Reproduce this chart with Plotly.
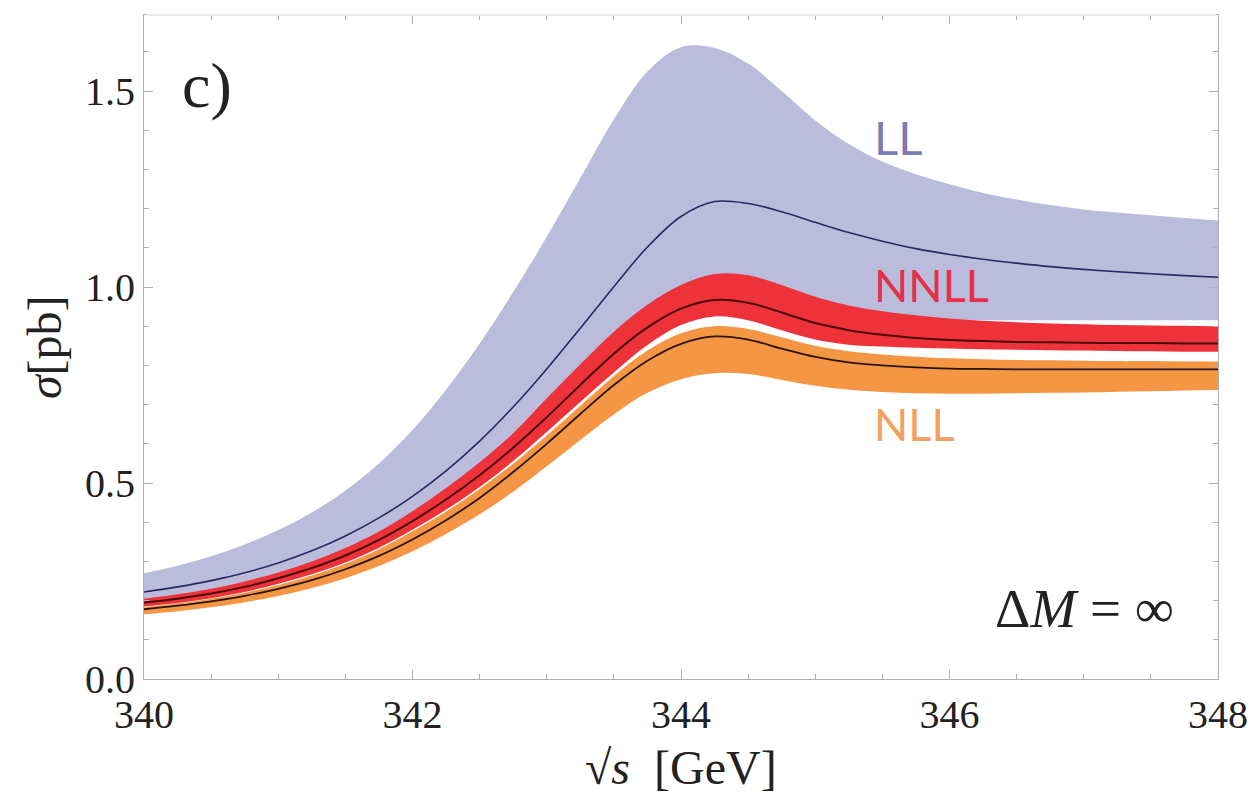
import plotly.graph_objects as go

# sqrt(s) grid [GeV]
s = [340.00, 340.25, 340.50, 340.75, 341.00, 341.25, 341.50, 341.75,
     342.00, 342.25, 342.50, 342.75, 343.00, 343.25, 343.50, 343.75,
     344.00, 344.25, 344.50, 344.75, 345.00, 345.25, 345.50, 345.75,
     346.00, 346.25, 346.50, 346.75, 347.00, 347.25, 347.50, 347.75, 348.00]

# LL band and central curve [pb]
ll_up = [0.270, 0.289, 0.313, 0.343, 0.380, 0.425, 0.481, 0.550,
         0.635, 0.738, 0.856, 0.987, 1.128, 1.278, 1.428, 1.550,
         1.612, 1.610, 1.570, 1.500, 1.425, 1.365, 1.320, 1.288,
         1.262, 1.240, 1.223, 1.209, 1.198, 1.190, 1.183, 1.176, 1.170]
ll_c = [0.222, 0.235, 0.251, 0.271, 0.296, 0.327, 0.365, 0.411,
        0.466, 0.531, 0.607, 0.694, 0.791, 0.895, 1.001, 1.102,
        1.180, 1.218, 1.213, 1.192, 1.165, 1.139, 1.117, 1.098,
        1.083, 1.071, 1.061, 1.052, 1.045, 1.039, 1.034, 1.029, 1.025]
ll_lo = [0.200, 0.210, 0.222, 0.240, 0.262, 0.288, 0.320, 0.360,
         0.410, 0.465, 0.528, 0.598, 0.680, 0.762, 0.840, 0.900,
         0.930, 0.935, 0.930, 0.925, 0.922, 0.920, 0.918, 0.917,
         0.916, 0.916, 0.915, 0.915, 0.915, 0.915, 0.915, 0.915, 0.915]

# NNLL band and central curve [pb]
nnll_up = [0.205, 0.216, 0.230, 0.249, 0.272, 0.300, 0.334, 0.376,
           0.428, 0.487, 0.553, 0.627, 0.716, 0.803, 0.886, 0.955,
           1.005, 1.033, 1.030, 1.005, 0.975, 0.953, 0.938, 0.928,
           0.920, 0.914, 0.910, 0.907, 0.905, 0.903, 0.902, 0.901, 0.900]
nnll_c = [0.195, 0.205, 0.218, 0.235, 0.257, 0.283, 0.315, 0.355,
          0.403, 0.458, 0.520, 0.590, 0.668, 0.750, 0.830, 0.897,
          0.945, 0.967, 0.960, 0.935, 0.908, 0.890, 0.878, 0.870,
          0.865, 0.862, 0.860, 0.859, 0.858, 0.857, 0.857, 0.856, 0.856]
nnll_lo = [0.185, 0.194, 0.206, 0.222, 0.243, 0.267, 0.297, 0.335,
           0.381, 0.432, 0.490, 0.556, 0.630, 0.707, 0.782, 0.852,
           0.903, 0.925, 0.915, 0.890, 0.866, 0.853, 0.848, 0.845,
           0.843, 0.841, 0.840, 0.839, 0.838, 0.837, 0.836, 0.835, 0.835]

# NLL band and central curve [pb]
nll_up = [0.183, 0.193, 0.205, 0.220, 0.240, 0.264, 0.294, 0.331,
          0.377, 0.427, 0.485, 0.549, 0.621, 0.697, 0.773, 0.838,
          0.882, 0.900, 0.893, 0.872, 0.850, 0.836, 0.828, 0.822,
          0.818, 0.816, 0.814, 0.813, 0.812, 0.811, 0.811, 0.810, 0.810]
nll_c = [0.178, 0.187, 0.198, 0.212, 0.230, 0.252, 0.280, 0.314,
         0.356, 0.405, 0.462, 0.528, 0.600, 0.676, 0.750, 0.812,
         0.855, 0.874, 0.866, 0.843, 0.822, 0.808, 0.800, 0.795,
         0.792, 0.791, 0.790, 0.790, 0.790, 0.790, 0.790, 0.790, 0.790]
nll_lo = [0.165, 0.173, 0.183, 0.196, 0.212, 0.232, 0.257, 0.288,
          0.326, 0.370, 0.420, 0.478, 0.543, 0.610, 0.675, 0.730,
          0.765, 0.780, 0.778, 0.763, 0.748, 0.738, 0.732, 0.729,
          0.728, 0.728, 0.729, 0.730, 0.731, 0.733, 0.734, 0.736, 0.737]

x_ticks = [340, 342, 344, 346, 348]
y_ticks = [0.0, 0.5, 1.0, 1.5]

LL_FILL, LL_LINE, LL_TXT = "#bbbcdc", "#262a5e", "#7b7bb5"
NNLL_FILL, NNLL_LINE, NNLL_TXT = "#ee3239", "#4a0808", "#e5304a"
NLL_FILL, NLL_LINE, NLL_TXT = "#f59645", "#2a1505", "#f4a061"

fig = go.Figure()


def band(lo, up, color):
    fig.add_trace(go.Scatter(x=s, y=lo, mode="lines", line=dict(width=0, shape="spline", color=color),
                             hoverinfo="skip", showlegend=False))
    fig.add_trace(go.Scatter(x=s, y=up, mode="lines", line=dict(width=0, shape="spline", color=color),
                             fill="tonexty", fillcolor=color, hoverinfo="skip", showlegend=False))


def curve(y, color, w):
    fig.add_trace(go.Scatter(x=s, y=y, mode="lines", line=dict(width=w, shape="spline", color=color),
                             showlegend=False))


band(ll_lo, ll_up, LL_FILL)
band(nll_lo, nll_up, NLL_FILL)
band(nnll_lo, nnll_up, NNLL_FILL)
curve(ll_c, LL_LINE, 1.6)
curve(nll_c, NLL_LINE, 1.8)
curve(nnll_c, NNLL_LINE, 2.0)

serif = "Liberation Serif"
axis_common = dict(
    showgrid=False, zeroline=False, showline=True, linecolor="#b0b0b0", linewidth=1,
    mirror="allticks", ticks="inside", ticklen=9, tickcolor="#b0b0b0", tickwidth=1,
    tickfont=dict(family=serif, size=40, color="#222222"),
)

fig.update_xaxes(range=[340, 348], tickvals=x_ticks, ticktext=[str(v) for v in x_ticks],
                 minor=dict(dtick=0.5, ticks="inside", ticklen=5, tickcolor="#b0b0b0"),
                 **axis_common)
fig.update_yaxes(range=[0, 1.694], tickvals=y_ticks, ticktext=[f"{v:.1f}" for v in y_ticks],
                 minor=dict(dtick=0.1, ticks="inside", ticklen=5, tickcolor="#b0b0b0"),
                 **axis_common)

ann = [
    dict(x=340.27, y=1.515, xref="x", yref="y", text="c)", showarrow=False, xanchor="left",
         font=dict(family=serif, size=64, color="#222222")),
    dict(x=345.42, y=1.383, xref="x", yref="y", text="LL", showarrow=False, xanchor="left",
         font=dict(family="Lato", size=47, color=LL_TXT)),
    dict(x=345.42, y=1.005, xref="x", yref="y", text="NNLL", showarrow=False, xanchor="left",
         font=dict(family="Lato", size=45, color=NNLL_TXT)),
    dict(x=345.42, y=0.650, xref="x", yref="y", text="NLL", showarrow=False, xanchor="left",
         font=dict(family="Lato", size=45, color=NLL_TXT)),
    dict(x=347.69, y=0.18, xref="x", yref="y", text="Δ<i>M</i> = ∞", showarrow=False,
         xanchor="right", font=dict(family=serif, size=55, color="#222222")),
    dict(x=0.5, y=-0.134, xref="paper", yref="paper", text="√<i>s</i>  [GeV]", showarrow=False,
         xanchor="center", yanchor="middle", font=dict(family=serif, size=48, color="#222222")),
    dict(x=-0.093, y=0.5, xref="paper", yref="paper", text="<i>σ</i>[pb]", showarrow=False,
         textangle=-90, xanchor="center", yanchor="middle",
         font=dict(family=serif, size=48, color="#222222")),
]

fig.update_layout(
    width=1258, height=796,
    margin=dict(l=136, r=48, t=7, b=125),
    paper_bgcolor="white", plot_bgcolor="white",
    showlegend=False, annotations=ann,
    # soften the top frame edge (reference shows only faint ticks there)
    shapes=[dict(type="line", xref="paper", yref="paper", x0=0.002, x1=0.998, y0=1, y1=1,
                 line=dict(color="#ececec", width=2), layer="above")],
)

fig.write_html("out.html")
